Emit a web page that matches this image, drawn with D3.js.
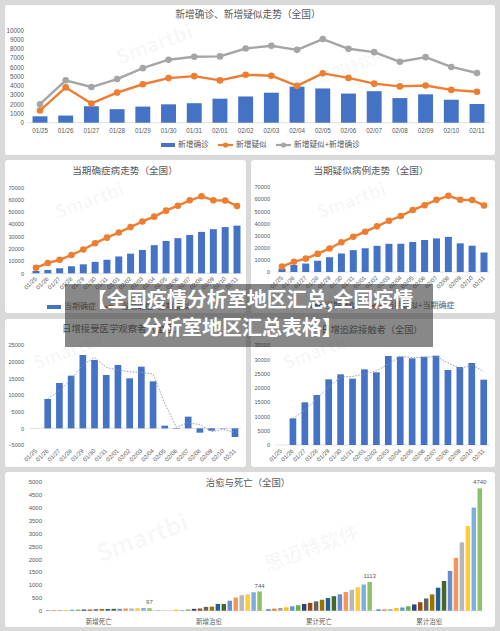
<!DOCTYPE html>
<html><head><meta charset="utf-8">
<script src="https://cdn.jsdelivr.net/npm/d3@7"></script>
<style>
html,body{margin:0;padding:0;background:#d9d9d9;}
svg{display:block;}
.cn{font-family:'Noto Sans CJK SC','Noto Sans',sans-serif;}
.num{font-family:'Liberation Sans','DejaVu Sans',sans-serif;}
</style></head><body>
<svg id="c" width="500" height="631"></svg>
<script>
// ---------------- DATA ----------------
const dates = ["01/25","01/26","01/27","01/28","01/29","01/30","01/31","02/01","02/02","02/03","02/04","02/05","02/06","02/07","02/08","02/09","02/10","02/11"];
// chart 1
const newConfirmed = [688,769,1771,1459,1737,1982,2102,2590,2829,3235,3887,3694,3143,3399,2656,3062,2478,2015];
const newSuspected = [1309,3806,2077,3248,4148,4812,5019,4562,5173,5072,3971,5328,4833,4214,3916,4008,3536,3342];
const newSum = [1997,4575,3848,4707,5885,6794,7121,7152,8002,8307,7858,9022,7976,7613,6572,7070,6014,5357];
const chart1Ticks = [0,1000,2000,3000,4000,5000,6000,7000,8000,9000,10000];
// charts 2 & 3
const curConfirmed = [1900,2700,4100,5700,7300,9300,11000,13700,16000,19000,22900,26300,28600,31200,33700,35900,37600,38800];
const curSuspected = [2684,5794,6973,9239,12167,15238,17988,19544,21558,23214,23260,24702,26359,27657,28942,23589,21675,16067];
const curSum = [4500,8400,11000,14900,19400,24500,29000,33200,37600,42200,46100,51000,55000,59400,62700,59500,59300,54800];
const chart23Ticks = [0,10000,20000,30000,40000,50000,60000,70000];
// chart 4
const observation = [null,8800,13600,15800,22000,20500,16000,19000,15000,18500,14100,800,-150,3500,-1300,-700,100,-2600];
const observationTrend = [null,8900,11200,14700,18900,21250,18250,17500,17000,16750,16300,7450,330,1680,1100,-1000,-300,-1250];
const chart4Ticks = [-5000,0,5000,10000,15000,20000,25000];
// chart 5
const contacts = [null,9330,14930,17500,22980,24730,23220,26480,25430,31150,30920,30330,30920,31270,26250,27300,28700,22870];
const contactsTrend = [null,9330,12130,16215,20240,23855,23975,24850,25955,28290,31035,30625,30625,31095,28760,26775,28000,25785];
const chart5Ticks = [0,5000,10000,15000,20000,25000,30000,35000];
// chart 6
const metrics = ["新增死亡","新增治愈","累计死亡","累计治愈"];
const newDeaths = [15,24,26,26,38,43,46,45,57,64,65,73,73,86,89,97,108,97];
const newCured = [11,9,9,43,21,47,72,85,147,157,262,261,387,510,600,632,716,744];
const cumDeaths = [56,80,106,132,170,213,259,304,361,425,490,563,636,722,811,908,1016,1113];
const cumCured = [49,51,60,103,124,171,243,328,475,632,892,1153,1540,2050,2649,3281,3996,4740];
const chart6Ticks = [0,500,1000,1500,2000,2500,3000,3500,4000,4500,5000];

// ---------------- STYLE ----------------
const BLUE="#4472C4", ORANGE="#ED7D31", GRAY="#A5A5A5", TXT="#595959", AXIS="#d9d9d9";
const palette = ["#4472C4","#ED7D31","#A5A5A5","#FFC000","#5B9BD5","#70AD47","#264478","#9E480E","#636363","#997300","#255E91","#43682B","#698ED0","#F1975A","#B7B7B7","#FFCD33","#7CAFDD","#8CC168"];

const svg = d3.select("#c");
svg.append("rect").attr("width",500).attr("height",631).attr("fill","#d9d9d9");

function panel(x,y,w,h){
  svg.append("rect").attr("x",x).attr("y",y).attr("width",w).attr("height",h).attr("rx",3).attr("fill","#fff");
}
function watermark(t,x,y,size){
  svg.append("text").attr("class","cn").attr("transform",`translate(${x},${y}) rotate(-20)`)
    .attr("text-anchor","middle").attr("dominant-baseline","middle")
    .attr("font-size",size).attr("font-weight","bold").attr("fill","#000").attr("fill-opacity",0.045).text(t);
}
function title(t,x,y,size){
  svg.append("text").attr("class","cn").attr("x",x).attr("y",y).attr("text-anchor","middle")
    .attr("dominant-baseline","middle").attr("font-size",size||9.6).attr("fill",TXT).text(t);
}
function yAxis(scale,ticks,xRight,fs){
  const g = svg.append("g").attr("transform",`translate(${xRight},0)`)
    .call(d3.axisLeft(scale).tickValues(ticks).tickSize(0).tickPadding(0).tickFormat(d3.format("d")));
  g.select(".domain").remove();
  g.selectAll("text").attr("class","num").attr("font-size",fs).attr("fill",TXT);
}
function baseline(x1,x2,y){
  svg.append("line").attr("x1",x1).attr("x2",x2).attr("y1",y).attr("y2",y).attr("stroke",AXIS).attr("stroke-width",0.8);
}
function xAxisRot(scale,yTop,fs){
  const g = svg.append("g").attr("transform",`translate(0,${yTop})`)
    .call(d3.axisBottom(scale).tickSize(0).tickPadding(0));
  g.select(".domain").remove();
  g.selectAll("text").attr("class","num").attr("font-size",fs).attr("fill",TXT)
    .attr("text-anchor","end").attr("y",0).attr("x",0).attr("dy","0.3em").attr("transform","rotate(-45)");
}
function bandFromCenters(c0,c1,n,pi){
  const step=(c1-c0)/(n-1);
  return d3.scaleBand().domain(dates).range([c0-step/2,c1+step/2]).paddingInner(pi).paddingOuter(pi/2);
}
function bars(x,y,vals,color){
  svg.append("g").selectAll("rect").data(dates.map((d,i)=>({d,v:vals[i]})).filter(o=>o.v!=null)).join("rect")
    .attr("x",o=>x(o.d)).attr("width",x.bandwidth())
    .attr("y",o=>Math.min(y(o.v),y(0))).attr("height",o=>Math.abs(y(o.v)-y(0)))
    .attr("fill",color);
}
function lineMarkers(x,y,vals,color,w,r){
  const pts = dates.map((d,i)=>[x(d)+x.bandwidth()/2,y(vals[i])]);
  svg.append("path").attr("d",d3.line()(pts)).attr("fill","none").attr("stroke",color).attr("stroke-width",w).attr("stroke-linejoin","round");
  svg.append("g").selectAll("circle").data(pts).join("circle").attr("cx",p=>p[0]).attr("cy",p=>p[1]).attr("r",r).attr("fill",color);
}
function trend(x,y,vals){
  const line = d3.line().defined(d=>d[1]!=null).x(d=>x(d[0])+x.bandwidth()/2).y(d=>y(d[1]));
  svg.append("path").attr("d",line(dates.map((d,i)=>[d,vals[i]]))).attr("fill","none")
    .attr("stroke","#8593ad").attr("stroke-width",0.9).attr("stroke-dasharray","1.5,1.5");
}
function legendRect(x,y,label,fs){
  svg.append("rect").attr("x",x).attr("y",y-2).attr("width",14).attr("height",4).attr("fill",BLUE);
  svg.append("text").attr("class","cn").attr("x",x+17).attr("y",y).attr("dominant-baseline","middle").attr("font-size",fs).attr("fill",TXT).text(label);
}
function legendLine(x,y,color,label,fs){
  svg.append("line").attr("x1",x).attr("x2",x+15).attr("y1",y).attr("y2",y).attr("stroke",color).attr("stroke-width",2.2);
  svg.append("circle").attr("cx",x+7.5).attr("cy",y).attr("r",2.6).attr("fill",color);
  svg.append("text").attr("class","cn").attr("x",x+18).attr("y",y).attr("dominant-baseline","middle").attr("font-size",fs).attr("fill",TXT).text(label);
}

// ---------------- PANELS ----------------
panel(5,5,490,150);
panel(5,160,241,153);
panel(251,160,244,153);
panel(5,319,241,148);
panel(251,319,244,148);
panel(5,472,490,155);

// ---------------- CHART 1 ----------------
{
  watermark("Smartbi",155,46,20);
  watermark("思迈特软件",352,68,14);
  title("新增确诊、新增疑似走势（全国）",248,15,9.7);
  const x = bandFromCenters(40,477,18,0.42);
  const y = d3.scaleLinear().domain([0,10000]).range([122.7,30]);
  yAxis(y,chart1Ticks,24,6.3);
  baseline(27,490,y(0));
  bars(x,y,newConfirmed,BLUE);
  lineMarkers(x,y,newSuspected,ORANGE,2.4,3.3);
  lineMarkers(x,y,newSum,GRAY,2.4,3.3);
  const g = svg.append("g").attr("transform","translate(0,131)")
    .call(d3.axisBottom(x).tickSize(0).tickPadding(0));
  g.select(".domain").remove();
  g.selectAll("text").attr("class","num").attr("font-size",6.3).attr("fill",TXT).attr("y",0).attr("dy","0.35em");
  legendRect(161,145,"新增确诊",7.7);
  legendLine(218,145,ORANGE,"新增疑似",7.7);
  legendLine(276,145,GRAY,"新增疑似+新增确诊",7.7);
}

// ---------------- CHART 2 ----------------
{
  watermark("Smartbi",90,202,18);
  title("当期确症病走势（全国）",125,171,9.6);
  const x = bandFromCenters(36,237,18,0.41);
  const y = d3.scaleLinear().domain([0,70000]).range([273.3,187.3]);
  yAxis(y,chart23Ticks,24,5.6);
  baseline(30,243,y(0));
  bars(x,y,curConfirmed,BLUE);
  lineMarkers(x,y,curSum,ORANGE,2.4,3.3);
  xAxisRot(x,278,6);
  legendRect(47,307,"当期确症",8);
  legendLine(103,307,ORANGE,"当期确症+当期疑似",8);
}

// ---------------- CHART 3 ----------------
{
  watermark("Smartbi",352,202,18);
  title("当期疑似病例走势（全国）",371,171,9.6);
  const x = bandFromCenters(282,484,18,0.41);
  const y = d3.scaleLinear().domain([0,70000]).range([272,187]);
  yAxis(y,chart23Ticks,270,5.6);
  baseline(276,490,y(0));
  bars(x,y,curSuspected,BLUE);
  lineMarkers(x,y,curSum,ORANGE,2.4,3.3);
  xAxisRot(x,277,6);
  legendRect(308,306,"当期疑似",8);
  legendLine(368,306,ORANGE,"当期疑似+当期确症",8);
}

// ---------------- CHART 4 ----------------
{
  watermark("Smartbi",68,353,18);
  title("日增接受医学观察者（全国）",123,329,9.4);
  const x = bandFromCenters(36,235,18,0.43);
  const y = d3.scaleLinear().domain([-5000,25000]).range([445,345]);
  yAxis(y,chart4Ticks,24,5.6);
  baseline(30,241,y(0));
  bars(x,y,observation,BLUE);
  trend(x,y,observationTrend);
  xAxisRot(x,450,6);
}

// ---------------- CHART 5 ----------------
{
  watermark("Smartbi",318,353,18);
  title("日增追踪接触者（全国）",372,330,9.2);
  const x = bandFromCenters(281,483.7,18,0.44);
  const y = d3.scaleLinear().domain([0,35000]).range([445,345]);
  yAxis(y,chart5Ticks,270,5.6);
  baseline(275,490,y(0));
  bars(x,y,contacts,BLUE);
  trend(x,y,contactsTrend);
  xAxisRot(x,450,6);
}

// ---------------- CHART 6 ----------------
{
  watermark("Smartbi",143,540,24);
  watermark("思迈特软件",312,550,20);
  title("治愈与死亡（全国）",248,483,9.4);
  const series = [newDeaths,newCured,cumDeaths,cumCured];
  const x0 = d3.scaleBand().domain(metrics).range([46,482]).paddingInner(0.04).paddingOuter(0);
  const x1 = d3.scaleBand().domain(d3.range(dates.length)).range([0,x0.bandwidth()]).paddingInner(0.25);
  const y = d3.scaleLinear().domain([0,5000]).range([610.7,481.7]);
  yAxis(y,chart6Ticks,42,6);
  baseline(46,482,y(0));
  const groups = svg.append("g").selectAll("g").data(metrics).join("g")
    .attr("transform",m=>`translate(${x0(m)},0)`);
  groups.selectAll("rect").data((m,mi)=>series[mi].map((v,i)=>({v,i}))).join("rect")
    .attr("x",o=>x1(o.i)).attr("width",x1.bandwidth())
    .attr("y",o=>y(o.v)).attr("height",o=>y(0)-y(o.v)).attr("fill",o=>palette[o.i]);
  const last = dates.length-1;
  groups.append("text").attr("class","num")
    .attr("x",x1(last)+x1.bandwidth()/2).attr("y",(m,mi)=>y(series[mi][last])-4)
    .attr("text-anchor","middle").attr("font-size",6).attr("fill",TXT)
    .text((m,mi)=>series[mi][last]);
  const gx = svg.append("g").attr("transform","translate(0,621.5)")
    .call(d3.axisBottom(x0).tickSize(0).tickPadding(0));
  gx.select(".domain").remove();
  gx.selectAll("text").attr("class","cn").attr("font-size",6.5).attr("fill",TXT).attr("y",0).attr("dy","0.35em");
}

// ---------------- BANNER ----------------
svg.append("rect").attr("x",65).attr("y",284).attr("width",368).attr("height",63).attr("fill","rgb(50,50,50)").attr("fill-opacity",0.58);
svg.append("text").attr("class","cn").attr("x",250).attr("y",302).attr("text-anchor","middle").attr("dominant-baseline","middle")
  .attr("font-size",20).attr("font-weight","bold").attr("fill","#fff").text("【全国疫情分析室地区汇总,全国疫情");
svg.append("text").attr("class","cn").attr("x",242).attr("y",330).attr("text-anchor","middle").attr("dominant-baseline","middle")
  .attr("font-size",20).attr("font-weight","bold").attr("fill","#fff").text("分析室地区汇总表格】");
</script>
</body></html>
